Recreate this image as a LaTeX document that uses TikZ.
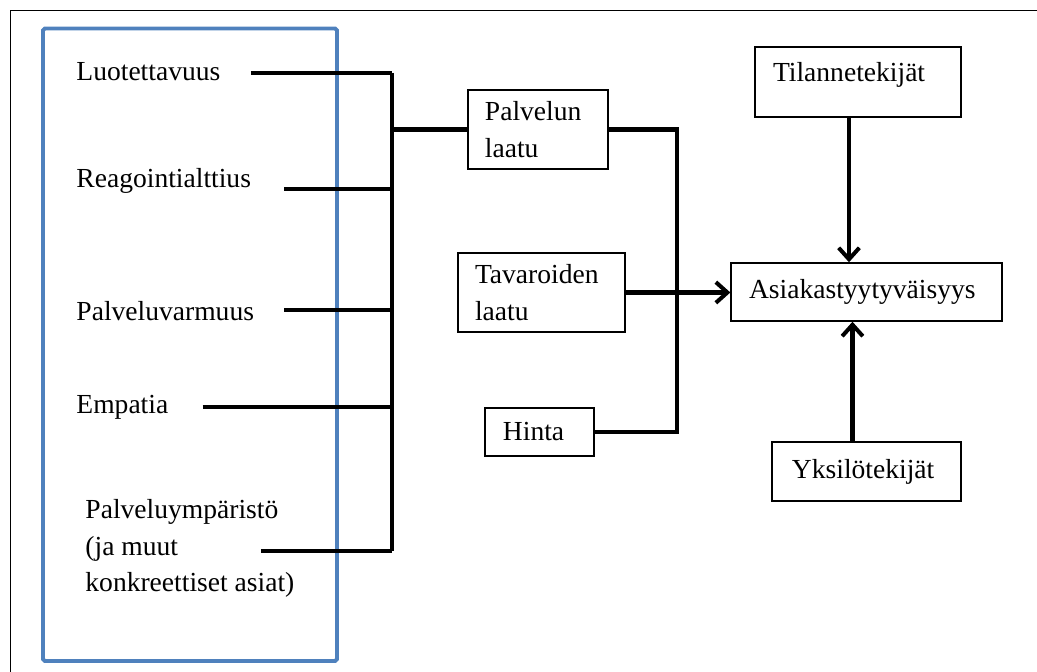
\documentclass[tikz,border=0pt]{standalone}
\usepackage{fontspec}
\setmainfont{Liberation Serif}
\usetikzlibrary{arrows.meta,calc}
\definecolor{boxblue}{RGB}{79,129,189}
\begin{document}
\begin{tikzpicture}[x=0.4355pt,y=-0.4355pt,
  txt/.style={font=\fontsize{12}{15.9}\selectfont, inner sep=0pt},
  box/.style={draw, line width=0.6pt, font=\fontsize{12}{15.9}\selectfont, align=left, inner ysep=0pt},
  conn/.style={line width=1.75pt},
  arr/.style={conn, -{Straight Barb[length=5pt,width=9pt]}},
  frame/.style={line width=0.6pt},
  bluebox/.style={draw=boxblue, line width=1.7pt, rounded corners=0.8pt}]
\useasboundingbox (0,0) rectangle (1037,672);
% outer frame (only top and left visible)
\draw[frame] (10.5,672) -- (10.5,10.5) -- (1037,10.5);
% blue group box
\draw[bluebox] (43,28.5) rectangle (337,661);
% left texts
\node[txt, anchor=base west] (luo) at (76,81) {Luotettavuus};
\node[txt, anchor=base west] (rea) at (76,188) {Reagointialttius};
\node[txt, anchor=base west] (pva) at (76,321) {Palveluvarmuus};
\node[txt, anchor=base west] (emp) at (76,414) {Empatia};
\node[txt, anchor=north west, align=left] (ymp) at (85,499) {Palveluympäristö\\(ja muut\\konkreettiset asiat)};
% boxes
\node[box, inner xsep=7.4pt, text width=46.2pt, minimum height=34.4pt] (pl) at (538,129.5) {Palvelun\\laatu};
\node[box, inner xsep=7.4pt, text width=57.9pt, minimum height=34.4pt] (tav) at (541.5,292.5) {Tavaroiden\\laatu};
\node[box, inner xsep=7.84pt, text width=31.8pt, minimum height=20.9pt] (hin) at (539.5,432) {Hinta};
\node[box, inner xsep=7.84pt, text width=102.3pt, minimum height=25.3pt] (asi) at (866.5,292) {Asiakastyytyväisyys};
\node[box, inner xsep=7.84pt, text width=74pt, minimum height=30.5pt, text depth=9pt] (ti) at (858,82) {Tilannetekijät};
\node[box, inner xsep=8.71pt, text width=64.9pt, minimum height=25.7pt] (yk) at (866.5,471.5) {Yksilötekijät};
% bus coordinates
\coordinate (busx) at (392,0);
\coordinate (rbx) at (677,0);
% left connectors
\draw[conn] ($(luo.base east)+(30,-8)$) coordinate (s1) -- (s1 -| busx);
\draw[conn] ($(rea.base east)+(33,1)$) coordinate (s2) -- (s2 -| busx);
\draw[conn] ($(pva.base east)+(30,-11)$) coordinate (s3) -- (s3 -| busx);
\draw[conn] ($(emp.base east)+(34,-7)$) coordinate (s4) -- (s4 -| busx);
\draw[conn] ($(ymp.east)+(-34,3)$) coordinate (s5) -- (s5 -| busx);
\draw[conn] (s1 -| busx) -- (s5 -| busx);
\draw[conn] (pl.west -| busx) -- (pl.west);
% right bus
\draw[conn] (pl.east) -| (rbx |- hin.east) -- (hin.east);
% arrows
\draw[arr] (tav.east) -- (tav.east -| asi.west);
\draw[arr] ($(ti.south)+(-9,0)$) coordinate (t1) -- (t1 |- asi.north);
\draw[arr] ($(yk.north)+(-14,0)$) coordinate (y1) -- (y1 |- asi.south);
\end{tikzpicture}
\end{document}
